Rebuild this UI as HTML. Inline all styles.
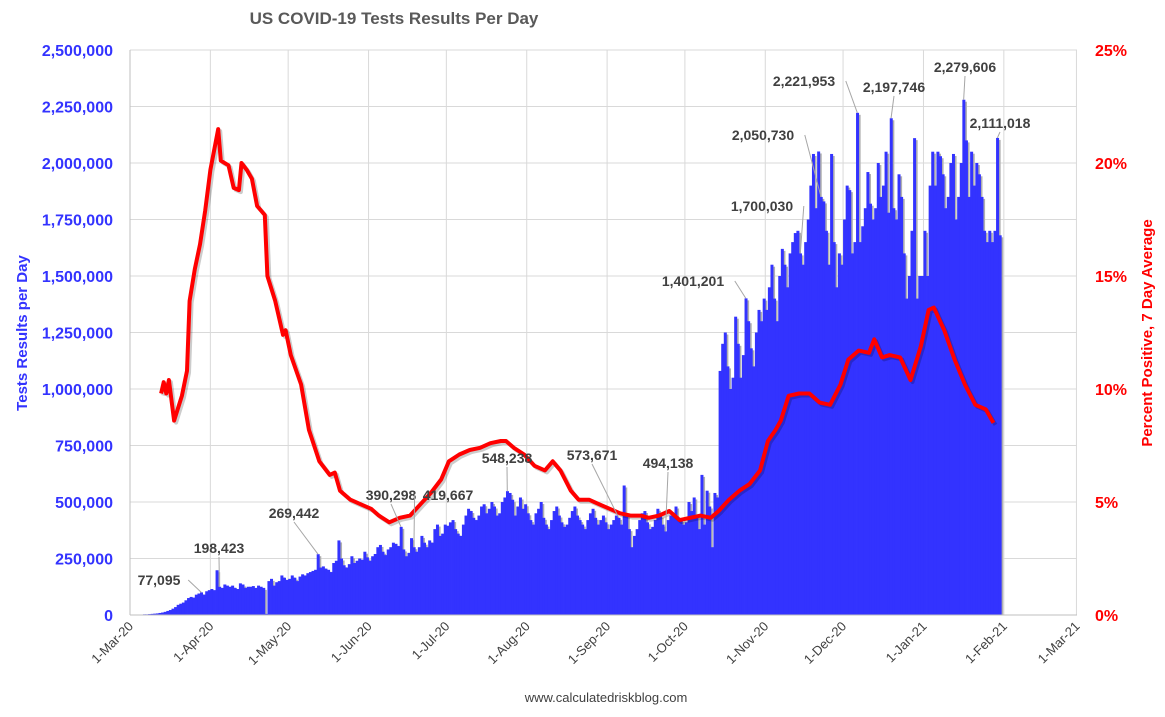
<!DOCTYPE html>
<html><head><meta charset="utf-8"><style>
body{margin:0;background:#fff;}
svg text{font-family:"Liberation Sans",Arial,sans-serif;}
</style></head><body>
<svg id="chart" width="1165" height="712" viewBox="0 0 1165 712" xmlns="http://www.w3.org/2000/svg">
<text x="394" y="24" text-anchor="middle" font-size="17" font-weight="bold" fill="#595959">US COVID-19 Tests Results Per Day</text>
<g id="grid"></g><g id="bars"></g><g id="line"></g><g id="axes"></g><g id="annos"></g>
<text transform="translate(27,333) rotate(-90)" text-anchor="middle" font-size="15" font-weight="bold" fill="#3333ff">Tests Results per Day</text>
<text transform="translate(1152,333) rotate(-90)" text-anchor="middle" font-size="15" font-weight="bold" fill="#ff0000">Percent Positive, 7 Day Average</text>
<text x="606" y="702" text-anchor="middle" font-size="13" fill="#404040">www.calculatedriskblog.com</text>
</svg>
<script>
const monthLabels=["1-Mar-20","1-Apr-20","1-May-20","1-Jun-20","1-Jul-20","1-Aug-20","1-Sep-20","1-Oct-20","1-Nov-20","1-Dec-20","1-Jan-21","1-Feb-21","1-Mar-21"];
const monthDays=[0,31,61,92,122,153,184,214,245,275,306,337,365];
const leftTicks=[0,250000,500000,750000,1000000,1250000,1500000,1750000,2000000,2250000,2500000];
const rightTicks=[0,5,10,15,20,25];
const startDay=3;
const marTests=[2,2,3,3,4,5,6,7,9,11,14,18,22,28,35,45,50,55,65,75,80,77,90,95,100,90,105,110];
const aprTests=[115,110,198,125,120,135,130,125,130,120,115,140,135,120,125,125,128,120,130,125,120,5,150,160,130,145,150,175,165,155];
const mayTests=[160,175,165,150,170,180,175,185,190,195,200,269,210,215,205,200,190,230,240,330,250,220,210,225,260,230,240,250,245,280,255];
const junTests=[240,260,270,300,310,280,265,290,300,320,315,305,390,290,260,275,340,300,280,300,350,320,300,330,320,380,400,350,360,400];
const julTests=[395,410,420,380,360,350,400,440,470,460,430,420,440,480,490,450,470,500,480,440,450,500,520,548,540,510,440,480,520,470,490];
const augTests=[450,420,400,450,470,500,430,400,380,420,460,480,440,410,390,400,430,460,480,440,420,400,380,420,450,470,430,400,420,440,410];
const sepTests=[380,400,420,440,430,400,573,450,380,300,350,380,420,450,460,410,380,390,420,470,440,400,370,420,440,450,480,430,420,400];
const octTests=[410,500,460,520,440,380,620,400,550,480,300,540,520,1080,1200,1250,1100,1000,1050,1320,1200,1050,1150,1401,1300,1180,1100,1250,1350,1300,1400];
const novTests=[1350,1450,1550,1400,1300,1500,1620,1550,1450,1600,1650,1690,1700,1600,1550,1650,1750,1900,2040,1800,2051,1850,1830,1700,1550,2040,1650,1450,1600,1550];
const decTests=[1750,1900,1880,1600,1650,2222,1650,1720,1800,1960,1820,1750,1800,2000,1850,1900,2050,1780,2198,1800,1750,1950,1850,1600,1400,1500,1700,2110,1400,1500,1500];
const janTests=[1700,1500,1900,2050,1900,2050,2030,1950,1800,1850,2000,2040,1750,1850,2000,2280,2100,1850,2050,1900,2000,1950,1850,1700,1650,1700,1650,1700,2111,1680];
const posDays=[12,13,14,15,17,20,22,23,25,27,29,31,34,35,38,40,42,43,45,47,49,52,53,56,59,60,62,66,69,73,77,79,81,85,89,93,96,100,104,108,112,116,120,123,127,131,135,139,143,145,148,152,156,160,163,166,170,173,177,181,185,189,193,197,200,204,208,212,216,220,224,227,231,235,239,243,246,249,251,254,258,262,266,270,274,277,281,285,287,290,293,297,301,305,308,310,314,318,322,326,330,333];
const posVals=[9.8,10.3,9.8,10.4,8.6,9.7,10.8,13.9,15.3,16.4,17.9,19.7,21.5,20.1,19.9,18.9,18.8,20,19.7,19.3,18.1,17.7,15.0,13.9,12.4,12.6,11.5,10.2,8.2,6.8,6.2,6.3,5.5,5.1,4.9,4.7,4.4,4.1,4.3,4.4,4.9,5.4,6.0,6.8,7.1,7.3,7.4,7.6,7.7,7.7,7.4,7.1,6.6,6.4,6.8,6.4,5.5,5.1,5.1,4.9,4.7,4.5,4.4,4.4,4.3,4.4,4.6,4.2,4.3,4.4,4.3,4.6,5.1,5.5,5.8,6.4,7.7,8.2,8.6,9.7,9.8,9.8,9.4,9.3,10.2,11.3,11.7,11.6,12.2,11.4,11.5,11.4,10.4,11.9,13.5,13.6,12.6,11.3,10.2,9.3,9.1,8.5];
const annoDays=[27,34,72,104,109,145,188,206,237,258,266,280,293,321,334];
const annoText=["77,095","198,423","269,442","390,298","419,667","548,238","573,671","494,138","1,401,201","1,700,030","2,050,730","2,221,953","2,197,746","2,279,606","2,111,018"];
// label layout (pixel center x, baseline y)
const annoLabelPos=[[159,585],[219,553],[294,518],[391,500],[448,500],[507,463],[592,460],[668,468],[693,286],[762,211],[763,140],[804,86],[894,92],[965,72],[1000,128]];

const NS="http://www.w3.org/2000/svg";
const X0=130,PX=2.593,Y0=615,H=565;
const xs=d=>X0+d*PX, yL=v=>Y0-v/2500000*H, yR=p=>Y0-p/25*H;
function mk(tag,attrs,parent){const e=document.createElementNS(NS,tag);for(const k in attrs)e.setAttribute(k,attrs[k]);document.getElementById(parent).appendChild(e);return e;}
const tests=[].concat(marTests,aprTests,mayTests,junTests,julTests,augTests,sepTests,octTests,novTests,decTests,janTests);
leftTicks.forEach((v,i)=>{if(i===0)return;const g=mk('line',{x1:X0,x2:1077,y1:yL(v),y2:yL(v),stroke:'#d9d9d9','stroke-width':1},'grid');

});
monthDays.forEach((d,i)=>{if(i===0)return;const g=mk('line',{x1:xs(d),x2:xs(d),y1:50,y2:Y0,stroke:'#d9d9d9','stroke-width':1},'grid');

});
tests.forEach((v,i)=>{const d=startDay+i;const x=xs(d);const y=yL(v*1000);
const s=mk('rect',{x:x+2,y:y+2,width:PX,height:Math.max(0,Y0-y-2),fill:'#b0b0b0'},'bars');

});
tests.forEach((v,i)=>{const d=startDay+i;const x=xs(d);const y=yL(v*1000);
const b=mk('rect',{x:x,y:y,width:PX+0.4,height:Y0-y,fill:'#3333ff'},'bars');

});
const pts=posDays.map((d,i)=>xs(d).toFixed(1)+','+yR(posVals[i]).toFixed(1)).join(' ');
const ls=mk('polyline',{points:pts,fill:'none',stroke:'rgba(0,0,0,0.2)','stroke-width':4,transform:'translate(2,2)','stroke-linejoin':'round'},'line');


const ln=mk('polyline',{points:pts,fill:'none',stroke:'#ff0000','stroke-width':4,'stroke-linejoin':'round'},'line');


const ax=mk('line',{x1:X0,x2:X0,y1:50,y2:Y0,stroke:'#bfbfbf'},'axes');


const bx=mk('line',{x1:X0,x2:1077,y1:Y0,y2:Y0,stroke:'#bfbfbf'},'axes');


leftTicks.forEach(v=>{const t=mk('text',{x:113,y:yL(v)+6,'text-anchor':'end','font-size':16,'font-weight':'bold',fill:'#3333ff'},'axes');t.textContent=v.toLocaleString('en-US');

});
rightTicks.forEach(p=>{const t=mk('text',{x:1095,y:yR(p)+6,'font-size':16,'font-weight':'bold',fill:'#ff0000'},'axes');t.textContent=p+'%';

});
monthDays.forEach((d,i)=>{const x=xs(d);const t=mk('text',{transform:`translate(${x+4},${Y0+12}) rotate(-45)`,'text-anchor':'end','font-size':13,fill:'#404040'},'axes');t.textContent=monthLabels[i];

});
annoDays.forEach((d,i)=>{const bxp=xs(d)+PX/2;const byp=yL(tests[d-startDay]*1000);const lx=annoLabelPos[i][0],ly=annoLabelPos[i][1];
const hw=annoText[i].length*4.2;
let ex=lx, ey=ly+4;
if(bxp>lx+hw){ex=lx+hw+4;ey=ly-5;} else if(bxp<lx-hw){ex=lx-hw-4;ey=ly-5;}
const l=mk('polyline',{points:`${bxp},${byp} ${ex},${ey}`,fill:'none',stroke:'#a6a6a6','stroke-width':1},'annos');


const t=mk('text',{x:lx,y:ly,'text-anchor':'middle','font-size':14,'font-weight':'bold',fill:'#404040'},'annos');
t.textContent=annoText[i];

});
</script>
</body></html>
